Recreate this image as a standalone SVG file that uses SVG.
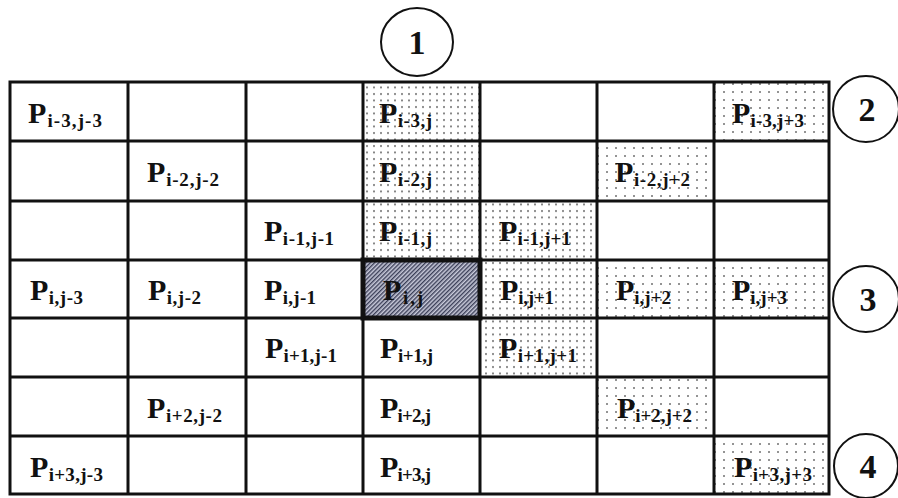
<svg xmlns="http://www.w3.org/2000/svg" width="898" height="498" viewBox="0 0 898 498">
<defs>
<pattern id="dots" patternUnits="userSpaceOnUse" width="9" height="8" x="2" y="2">
<rect width="9" height="8" fill="#ffffff"/>
<circle cx="2" cy="2" r="1" fill="#707070"/>
</pattern>
<pattern id="dots2" patternUnits="userSpaceOnUse" width="7" height="6.5" x="1" y="1">
<rect width="7" height="6.5" fill="#ffffff"/>
<circle cx="2" cy="2" r="1" fill="#707070"/>
</pattern>
<pattern id="hatch" patternUnits="userSpaceOnUse" width="3" height="3" patternTransform="rotate(45)">
<rect width="3" height="3" fill="#c8cada"/>
<rect width="1.4" height="3" fill="#3b3f58"/>
</pattern>
<style>
.lbl{font-family:"Liberation Serif","Times New Roman",serif;font-weight:bold;font-size:30px;fill:#111}
.sub{font-size:19px}
.num{font-family:"Liberation Serif","Times New Roman",serif;font-weight:bold;font-size:34px;fill:#111;text-anchor:middle}
.ring{fill:#fff;stroke:#111;stroke-width:2}
.grid{stroke:#111;stroke-width:3;fill:none}
.dot{fill:url(#dots)}
.dot2{fill:url(#dots2)}
</style>
</defs>
<rect width="898" height="498" fill="#fff"/>

<g id="shading">
<rect class="dot2" x="363" y="82" width="117" height="178"/>
<rect class="dot" x="714" y="82" width="115" height="59"/>
<rect class="dot" x="597" y="141" width="117" height="60"/>
<rect class="dot2" x="480" y="201" width="117" height="176"/>
<rect class="dot" x="597" y="260" width="232" height="58"/>
<rect class="dot" x="597" y="377" width="117" height="59"/>
<rect class="dot" x="714" y="436" width="115" height="58"/>
<rect x="363" y="260" width="117" height="58" fill="url(#hatch)"/>
</g>

<g id="grid">
<rect class="grid" x="10" y="82" width="819" height="412"/>
<path class="grid" d="M128 82V494M246 82V494M363 82V494M480 82V494M597 82V494M714 82V494M10 141H829M10 201H829M10 260H829M10 318H829M10 377H829M10 436H829"/>
<rect x="363" y="260" width="117" height="58" fill="none" stroke="#111" stroke-width="5"/>
</g>

<g id="connectors"></g>

<g id="cells">
<g id="c-3-3"><text class="lbl" x="28" y="123" textLength="74" lengthAdjust="spacing">P<tspan class="sub" dy="4">i-3,j-3</tspan></text></g>
<g id="c-30"><text class="lbl" x="379" y="123" textLength="53" lengthAdjust="spacing">P<tspan class="sub" dy="4">i-3,j</tspan></text></g>
<g id="c-3p3"><text class="lbl" x="732" y="123" textLength="72" lengthAdjust="spacing">P<tspan class="sub" dy="4">i-3,j+3</tspan></text></g>

<g id="c-2-2"><text class="lbl" x="147" y="182" textLength="72" lengthAdjust="spacing">P<tspan class="sub" dy="4">i-2,j-2</tspan></text></g>
<g id="c-20"><text class="lbl" x="379" y="182" textLength="53" lengthAdjust="spacing">P<tspan class="sub" dy="4">i-2,j</tspan></text></g>
<g id="c-2p2"><text class="lbl" x="615" y="182" textLength="75" lengthAdjust="spacing">P<tspan class="sub" dy="4">i-2,j+2</tspan></text></g>

<g id="c-1-1"><text class="lbl" x="264" y="241" textLength="70" lengthAdjust="spacing">P<tspan class="sub" dy="4">i-1,j-1</tspan></text></g>
<g id="c-10"><text class="lbl" x="379" y="241" textLength="53" lengthAdjust="spacing">P<tspan class="sub" dy="4">i-1,j</tspan></text></g>
<g id="c-1p1"><text class="lbl" x="499" y="241" textLength="72" lengthAdjust="spacing">P<tspan class="sub" dy="4">i-1,j+1</tspan></text></g>

<g id="c0-3"><text class="lbl" x="30" y="300" textLength="53" lengthAdjust="spacing">P<tspan class="sub" dy="4">i,j-3</tspan></text></g>
<g id="c0-2"><text class="lbl" x="148" y="300" textLength="53" lengthAdjust="spacing">P<tspan class="sub" dy="4">i,j-2</tspan></text></g>
<g id="c0-1"><text class="lbl" x="264" y="300" textLength="52" lengthAdjust="spacing">P<tspan class="sub" dy="4">i,j-1</tspan></text></g>
<g id="c00"><text class="lbl" x="383" y="300" textLength="40" lengthAdjust="spacing" fill="#23263a">P<tspan class="sub" dy="4">i,j</tspan></text></g>
<g id="c0p1"><text class="lbl" x="500" y="300" textLength="54" lengthAdjust="spacing">P<tspan class="sub" dy="4">i,j+1</tspan></text></g>
<g id="c0p2"><text class="lbl" x="616" y="300" textLength="55" lengthAdjust="spacing">P<tspan class="sub" dy="4">i,j+2</tspan></text></g>
<g id="c0p3"><text class="lbl" x="732" y="300" textLength="55" lengthAdjust="spacing">P<tspan class="sub" dy="4">i,j+3</tspan></text></g>

<g id="cp1-1"><text class="lbl" x="265" y="358" textLength="72" lengthAdjust="spacing">P<tspan class="sub" dy="4">i+1,j-1</tspan></text></g>
<g id="cp10"><text class="lbl" x="380" y="358" textLength="53" lengthAdjust="spacing">P<tspan class="sub" dy="4">i+1,j</tspan></text></g>
<g id="cp1p1"><text class="lbl" x="499" y="358" textLength="78" lengthAdjust="spacing">P<tspan class="sub" dy="4">i+1,j+1</tspan></text></g>

<g id="cp2-2"><text class="lbl" x="147" y="418" textLength="75" lengthAdjust="spacing">P<tspan class="sub" dy="4">i+2,j-2</tspan></text></g>
<g id="cp20"><text class="lbl" x="380" y="418" textLength="51" lengthAdjust="spacing">P<tspan class="sub" dy="4">i+2,j</tspan></text></g>
<g id="cp2p2"><text class="lbl" x="617" y="418" textLength="75" lengthAdjust="spacing">P<tspan class="sub" dy="4">i+2,j+2</tspan></text></g>

<g id="cp3-3"><text class="lbl" x="30" y="477" textLength="73" lengthAdjust="spacing">P<tspan class="sub" dy="4">i+3,j-3</tspan></text></g>
<g id="cp30"><text class="lbl" x="380" y="477" textLength="51" lengthAdjust="spacing">P<tspan class="sub" dy="4">i+3,j</tspan></text></g>
<g id="cp3p3"><text class="lbl" x="734" y="477" textLength="78" lengthAdjust="spacing">P<tspan class="sub" dy="4">i+3,j+3</tspan></text></g>
</g>

<g id="m1"><ellipse class="ring" cx="417" cy="42" rx="36" ry="34"/><text class="num" x="417" y="54">1</text></g>
<g id="m2"><circle class="ring" cx="866" cy="109" r="33"/><text class="num" x="867" y="121">2</text></g>
<g id="m3"><circle class="ring" cx="866" cy="299" r="33"/><text class="num" x="868" y="311">3</text></g>
<g id="m4"><circle class="ring" cx="866" cy="466" r="32"/><text class="num" x="868" y="478">4</text></g>
</svg>
